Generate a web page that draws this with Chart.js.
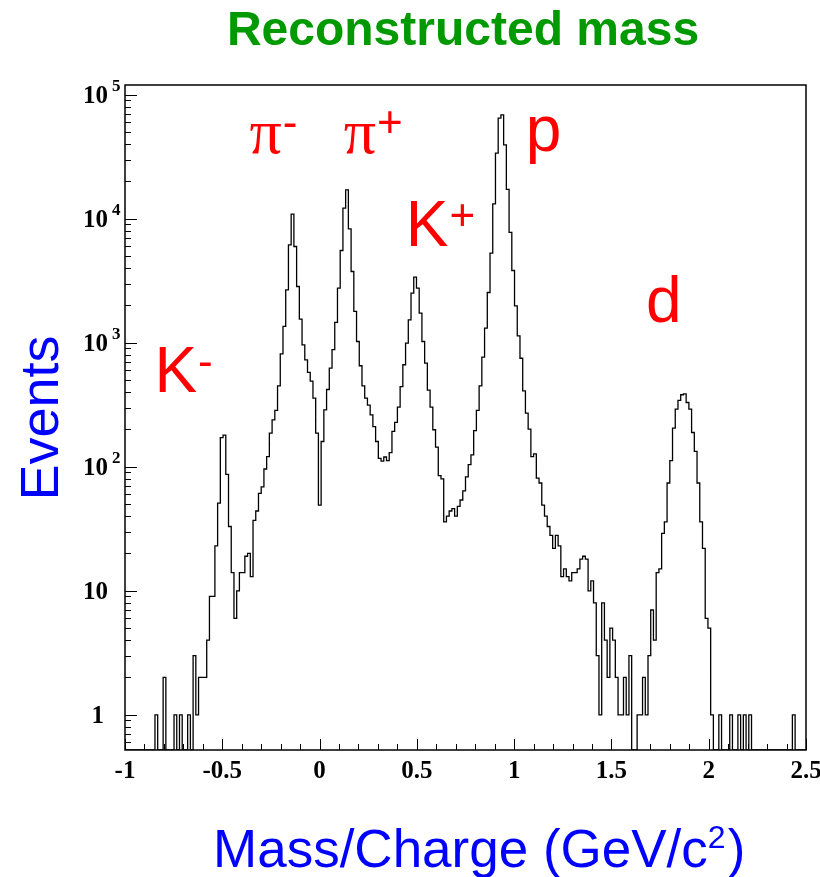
<!DOCTYPE html>
<html>
<head>
<meta charset="utf-8">
<script src="https://cdn.jsdelivr.net/npm/chart.js@4.4.1/dist/chart.umd.min.js"></script>
<style>
  html, body { margin: 0; padding: 0; background: #fff; }
  #wrap { width: 820px; height: 877px; position: relative; }
</style>
</head>
<body>
<div id="wrap"><canvas id="massChart"></canvas></div>
<script>
// histogram: 250 bins from -1 to 2.5
const BIN_MIN = -1;
const BIN_WIDTH = 0.014;
const COUNTS = [
  0, 0, 0, 0, 0, 0, 0, 0, 0, 0,
  0, 1, 0, 0, 2, 0, 0, 0, 1, 0,
  1, 0, 0, 1, 0, 3, 1, 2, 2, 2,
  4, 9, 9, 23, 51, 172, 180, 87, 33, 14,
  6, 10, 14, 14, 19, 20, 13, 37, 44, 61,
  69, 96, 121, 187, 239, 285, 450, 815, 1355, 2675,
  6170, 10900, 5980, 2845, 1550, 963, 729, 577, 491, 358,
  187, 49, 160, 288, 420, 625, 880, 1460, 2760, 5550,
  12200, 17100, 8300, 3760, 1790, 1025, 653, 450, 358, 314,
  262, 211, 160, 117, 111, 120, 112, 130, 193, 228,
  303, 444, 665, 995, 1530, 2520, 3390, 2760, 1735, 1025,
  686, 415, 303, 199, 144, 85, 80, 36, 40, 44,
  46, 40, 48, 54, 64, 83, 104, 125, 196, 285,
  450, 767, 1313, 2545, 5280, 13200, 33900, 64800, 69000, 39500,
  17300, 7760, 3830, 1987, 1137, 751, 410, 271, 201, 121,
  127, 81, 74, 49, 40, 33, 28, 22, 28, 23,
  13, 15, 13, 12, 14, 14, 15, 18, 19, 18,
  10, 12, 8, 3, 1, 8, 4, 2, 5, 4,
  2, 1, 1, 2, 1, 3, 0, 0, 1, 1,
  2, 1, 3, 7, 4, 14, 15, 29, 36, 74,
  112, 205, 292, 343, 381, 388, 330, 292, 189, 133,
  74, 36, 22, 6, 5, 1, 0, 0, 1, 0,
  0, 0, 1, 0, 0, 1, 0, 1, 0, 1,
  0, 0, 0, 0, 0, 0, 0, 0, 0, 0,
  0, 0, 0, 0, 0, 1, 0, 0, 0, 0,
];

const X_MIN = -1, X_MAX = 2.5;
const Y_MIN = 0.52, Y_MAX = 120000;
const X_TICKS = [-1, -0.5, 0, 0.5, 1, 1.5, 2, 2.5];
const X_TICK_LABELS = ['-1', '-0.5', '0', '0.5', '1', '1.5', '2', '2.5'];
const Y_TICKS = [1, 10, 100, 1000, 10000, 100000];
const Y_TICK_EXP = ['', '', '2', '3', '4', '5'];

// particle labels: [base, superscript, mass/charge, events]
const PARTICLES = [
  ['K', '-', -0.849, 403],
  ['\u03c0', '-', -0.36, 34000],
  ['\u03c0', '+', 0.124, 34000],
  ['K', '+', 0.443, 6050],
  ['p', '', 1.06, 35300],
  ['d', '', 1.678, 1477],
];

const points = COUNTS.map((c, i) => ({ x: BIN_MIN + i * BIN_WIDTH, y: c > 0 ? c : Y_MIN }));
points.push({ x: X_MAX, y: COUNTS[COUNTS.length - 1] || Y_MIN });

const SANS = '"Liberation Sans", Arial, sans-serif';
const SERIF = '"Liberation Serif", "Times New Roman", serif';

const rootFrame = {
  id: 'rootFrame',
  afterDraw(chart) {
    const { ctx, chartArea: a } = chart;
    const xs = chart.scales.x, ys = chart.scales.y;
    ctx.save();

    // frame
    ctx.strokeStyle = '#000';
    ctx.lineWidth = 1.5;
    ctx.strokeRect(a.left, a.top, a.right - a.left, a.bottom - a.top);

    // x ticks (inside), minor every 0.1
    ctx.lineWidth = 1;
    ctx.beginPath();
    for (let k = 0; k <= 35; k++) {
      const v = X_MIN + k * 0.1;
      const px = Math.round(xs.getPixelForValue(v)) + 0.5;
      const len = k % 5 === 0 ? 11 : 6;
      ctx.moveTo(px, a.bottom);
      ctx.lineTo(px, a.bottom - len);
    }
    // y ticks (inside), log minors
    for (let d = 0.1; d <= 1e5; d *= 10) {
      for (let m = 1; m <= 9; m++) {
        const v = m * d;
        if (v < Y_MIN || v > Y_MAX) continue;
        const py = Math.round(ys.getPixelForValue(v)) + 0.5;
        const len = m === 1 ? 12 : 6;
        ctx.moveTo(a.left, py);
        ctx.lineTo(a.left + len, py);
      }
    }
    ctx.stroke();

    // x tick labels
    ctx.fillStyle = '#000';
    ctx.font = 'bold 25px ' + SERIF;
    ctx.textAlign = 'center';
    ctx.textBaseline = 'alphabetic';
    X_TICKS.forEach((v, i) => {
      ctx.fillText(X_TICK_LABELS[i], xs.getPixelForValue(v), a.bottom + 28);
    });

    // y tick labels
    Y_TICKS.forEach((v, i) => {
      const py = ys.getPixelForValue(v);
      ctx.textAlign = 'right';
      ctx.font = 'bold 25px ' + SERIF;
      const base = v === 1 ? '1' : '10';
      ctx.fillText(base, v === 1 ? a.left - 21 : a.left - 17, py + 8);
      if (Y_TICK_EXP[i]) {
        ctx.textAlign = 'left';
        ctx.font = 'bold 17px ' + SERIF;
        ctx.fillText(Y_TICK_EXP[i], a.left - 13, py - 4);
      }
    });

    // title
    ctx.fillStyle = '#009a00';
    ctx.font = 'bold 48px ' + SANS;
    ctx.textAlign = 'center';
    ctx.fillText('Reconstructed mass', 463, 45);

    // axis titles
    ctx.fillStyle = '#0000ff';
    ctx.font = '53px ' + SANS;
    ctx.textAlign = 'left';
    const xt = 'Mass/Charge (GeV/c';
    const x0 = 213, yb = 867;
    ctx.fillText(xt, x0, yb);
    const w1 = ctx.measureText(xt).width;
    ctx.font = '32px ' + SANS;
    ctx.fillText('2', x0 + w1, yb - 19);
    const w2 = ctx.measureText('2').width;
    ctx.font = '53px ' + SANS;
    ctx.fillText(')', x0 + w1 + w2 + 2, yb);

    ctx.font = '54px ' + SANS;
    ctx.save();
    ctx.translate(58, 418);
    ctx.rotate(-Math.PI / 2);
    ctx.textAlign = 'center';
    ctx.fillText('Events', 0, 0);
    ctx.restore();

    // particle labels
    ctx.fillStyle = '#ff0000';
    ctx.textAlign = 'left';
    PARTICLES.forEach(([base, sup, mx, ev]) => {
      const px = xs.getPixelForValue(mx);
      const py = ys.getPixelForValue(ev);
      ctx.font = (base === '\u03c0' ? '64px ' + SERIF : '64px ' + SANS);
      ctx.fillText(base, px, py);
      if (sup) {
        const w = ctx.measureText(base).width;
        ctx.font = '44px ' + SANS;
        ctx.fillText(sup, px + w + 1, py - 16);
      }
    });

    ctx.restore();
  }
};

new Chart(document.getElementById('massChart'), {
  type: 'line',
  data: {
    datasets: [{
      data: points,
      stepped: 'before',
      borderColor: '#000',
      borderWidth: 1.3,
      pointRadius: 0,
      fill: false,
      tension: 0,
    }],
  },
  options: {
    responsive: true,
    maintainAspectRatio: false,
    animation: false,
    events: [],
    layout: { padding: { left: 125, top: 85, right: 14, bottom: 127 } },
    plugins: { legend: { display: false }, tooltip: { enabled: false } },
    scales: {
      x: { type: 'linear', min: X_MIN, max: X_MAX, display: false },
      y: { type: 'logarithmic', min: Y_MIN, max: Y_MAX, display: false },
    },
  },
  plugins: [rootFrame],
});
</script>
</body>
</html>
